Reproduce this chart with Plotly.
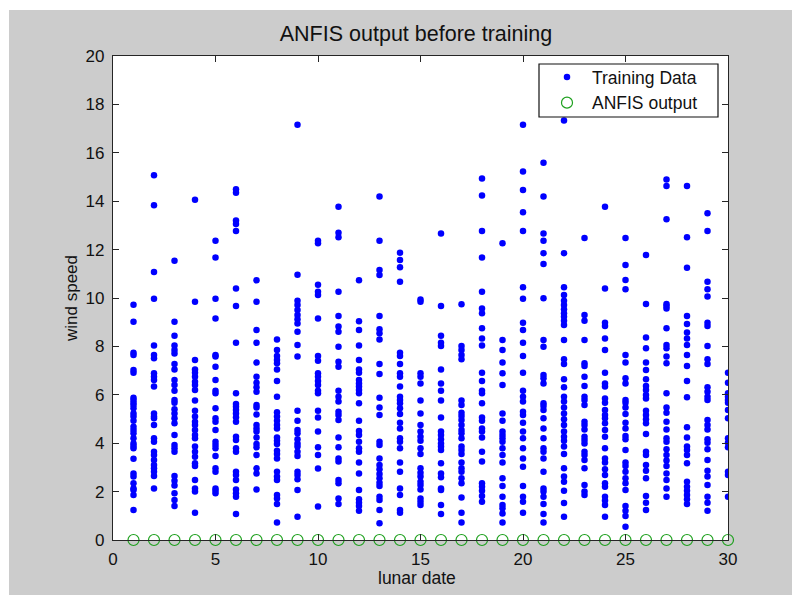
import plotly.graph_objects as go

# ---- data: wind speed samples per lunar date ----
d1 = [9.72, 9.02, 7.74, 7.64, 7.02, 6.91, 5.88, 5.79, 5.67, 5.58, 5.44, 5.23, 5.10, 4.93, 4.68, 4.55, 4.41, 4.20, 3.99, 3.88, 3.79, 3.36, 2.75, 2.62, 2.34, 2.13, 2.07, 1.86, 1.24]
d2 = [15.07, 13.83, 11.07, 9.97, 8.04, 7.64, 7.51, 6.89, 6.75, 6.61, 6.34, 5.23, 5.10, 5.03, 4.75, 4.20, 4.06, 3.65, 3.51, 3.31, 3.10, 2.96, 2.82, 2.64, 2.13]
d3 = [11.54, 9.02, 8.44, 8.04, 7.85, 7.71, 7.27, 7.05, 6.61, 6.40, 6.17, 5.79, 5.67, 5.40, 5.23, 5.03, 4.82, 4.34, 3.93, 3.79, 3.65, 2.64, 2.45, 2.25, 1.93, 1.65, 1.40]
d4 = [14.06, 9.85, 7.44, 7.05, 6.91, 6.75, 6.54, 6.40, 6.20, 5.76, 5.34, 5.10, 4.89, 4.75, 4.55, 4.34, 4.20, 3.86, 3.65, 3.44, 3.17, 3.06, 2.48, 2.13, 2.00, 1.13]
d5 = [12.37, 11.67, 9.97, 9.15, 7.64, 7.58, 7.16, 6.61, 6.17, 6.06, 5.44, 5.03, 4.89, 4.55, 4.06, 3.93, 3.79, 3.47, 2.96, 2.82, 2.13, 2.04, 1.93]
d6 = [14.49, 14.35, 13.20, 13.06, 12.77, 10.39, 9.67, 8.15, 6.06, 5.62, 5.51, 5.37, 5.23, 5.07, 4.89, 4.27, 4.13, 3.79, 3.65, 2.82, 2.69, 2.48, 2.09, 1.93, 1.79, 1.07]
d7 = [10.73, 9.85, 8.68, 8.15, 7.33, 6.75, 6.50, 6.31, 6.13, 5.58, 5.48, 5.19, 4.75, 4.61, 4.48, 4.24, 3.97, 3.83, 3.51, 2.96, 2.75, 2.09]
d8 = [8.29, 7.85, 7.60, 7.44, 7.30, 7.05, 6.57, 5.92, 5.28, 5.10, 4.93, 4.75, 4.61, 4.24, 4.10, 3.97, 3.69, 3.55, 3.37, 2.82, 2.62, 2.48, 1.86, 1.72, 1.49, 0.72]
d9 = [17.16, 10.96, 9.89, 9.71, 9.50, 9.30, 9.12, 8.95, 8.61, 8.06, 7.58, 5.34, 4.93, 4.55, 4.41, 4.16, 3.99, 3.86, 3.65, 3.47, 2.82, 2.69, 2.51, 2.07, 0.96]
d10 = [12.37, 12.26, 10.55, 10.26, 10.12, 9.15, 7.60, 7.41, 6.89, 6.75, 6.57, 6.40, 6.17, 6.06, 5.34, 5.06, 4.48, 3.83, 3.51, 2.95, 1.38]
d11 = [13.77, 12.70, 12.51, 10.26, 9.26, 8.82, 8.61, 7.99, 7.37, 7.16, 6.17, 5.92, 5.72, 5.30, 5.17, 4.96, 4.24, 3.83, 3.37, 3.24, 2.48, 2.34, 1.72, 1.49]
d12 = [10.73, 9.04, 8.68, 8.04, 7.44, 7.05, 6.91, 6.61, 6.47, 6.34, 6.20, 6.06, 5.65, 4.93, 4.50, 4.34, 4.06, 3.79, 3.65, 3.20, 2.75, 2.07, 1.68, 1.54, 1.40, 1.21]
d13 = [14.19, 12.37, 11.16, 10.95, 9.26, 8.71, 8.54, 8.29, 7.27, 6.86, 5.88, 5.48, 5.17, 4.06, 3.93, 3.37, 3.10, 2.92, 2.73, 2.55, 2.37, 2.23, 1.79, 1.65, 1.24, 0.69]
d14 = [11.87, 11.57, 11.27, 10.67, 7.74, 7.60, 7.27, 6.89, 6.75, 6.34, 5.92, 5.79, 5.65, 5.44, 5.21, 4.85, 4.61, 4.20, 4.06, 3.79, 3.20, 2.82, 2.13, 1.86, 1.24, 1.13]
d15 = [9.94, 9.85, 6.89, 6.75, 6.47, 5.76, 5.23, 4.75, 4.48, 4.27, 4.10, 3.79, 3.55, 2.96, 2.78, 2.62, 2.41, 2.27, 2.09, 1.72, 1.58, 1.45]
d16 = [12.67, 9.67, 8.44, 8.15, 8.02, 7.05, 6.47, 6.17, 5.76, 5.06, 4.48, 4.34, 4.16, 3.99, 3.86, 3.72, 3.17, 2.75, 2.59, 2.13, 2.07, 1.45, 1.07]
d17 = [9.74, 8.02, 7.85, 7.64, 7.47, 5.76, 5.58, 5.26, 5.12, 4.96, 4.75, 4.55, 4.41, 4.20, 3.86, 3.72, 3.55, 3.20, 2.96, 2.82, 2.55, 2.34, 1.76, 1.13, 0.72]
d18 = [14.94, 14.24, 12.77, 11.67, 10.26, 9.57, 9.37, 8.75, 8.33, 8.04, 6.91, 6.57, 6.17, 6.06, 5.65, 5.06, 4.93, 4.61, 4.48, 4.24, 3.65, 3.24, 2.34, 2.20, 2.04, 1.82, 1.58]
d19 = [12.26, 8.26, 7.85, 7.33, 6.89, 6.40, 5.23, 4.93, 4.48, 4.34, 4.20, 4.06, 3.79, 3.51, 3.20, 2.55, 2.23, 1.79, 1.45, 1.31, 1.10, 0.72]
d20 = [17.16, 15.23, 14.46, 13.54, 12.77, 10.44, 9.97, 8.98, 8.68, 8.15, 7.60, 6.91, 6.17, 5.92, 5.72, 5.30, 5.17, 4.85, 4.48, 4.20, 3.79, 3.37, 3.03, 2.23, 1.79, 1.58, 1.13]
d21 = [15.59, 14.19, 12.67, 12.37, 11.85, 11.40, 9.99, 8.26, 7.99, 6.82, 6.68, 6.47, 5.65, 5.54, 5.37, 5.03, 4.61, 4.20, 3.79, 3.65, 3.37, 2.82, 2.13, 2.00, 1.79, 1.49, 1.07, 0.72]
d22 = [17.33, 11.85, 10.44, 10.12, 9.89, 9.71, 9.53, 9.37, 9.23, 9.06, 8.88, 8.26, 7.47, 7.27, 6.64, 6.31, 5.92, 5.72, 5.48, 5.23, 4.99, 4.75, 4.48, 4.27, 4.10, 3.86, 3.55, 2.96, 2.62, 2.41, 2.04, 1.53, 0.96]
d23 = [12.48, 9.30, 9.06, 8.26, 7.30, 7.19, 6.75, 6.36, 5.92, 5.79, 5.58, 4.89, 4.75, 4.57, 4.27, 4.13, 3.99, 3.65, 3.51, 3.31, 2.96, 2.27, 2.00, 1.86]
d24 = [13.77, 10.39, 8.98, 8.84, 8.33, 7.85, 6.91, 6.47, 6.34, 5.85, 5.67, 5.37, 5.17, 5.03, 4.82, 4.55, 4.27, 3.79, 3.37, 3.20, 2.92, 2.69, 2.34, 2.20, 1.79, 1.63, 1.45, 0.96]
d25 = [12.48, 11.36, 10.74, 10.36, 7.64, 7.33, 6.68, 6.47, 5.79, 5.67, 5.48, 5.21, 4.85, 4.61, 4.30, 4.16, 3.72, 3.20, 3.06, 2.82, 2.55, 2.34, 2.07, 1.40, 1.21, 0.99, 0.55]
d26 = [11.78, 9.75, 8.37, 7.92, 7.33, 7.02, 6.64, 6.36, 6.20, 5.99, 5.85, 5.34, 5.17, 4.99, 4.82, 4.38, 3.65, 3.51, 3.10, 2.86, 2.55, 1.82, 1.54, 1.24]
d27 = [14.90, 14.63, 13.25, 9.75, 9.67, 9.57, 8.75, 8.06, 7.92, 7.58, 7.30, 6.06, 5.48, 5.26, 4.89, 4.57, 4.20, 4.06, 3.75, 3.51, 3.28, 3.06, 2.75, 2.48, 2.13, 1.79]
d28 = [14.63, 12.51, 11.25, 9.26, 8.93, 8.57, 8.33, 8.06, 7.64, 7.19, 6.57, 5.90, 4.66, 4.24, 3.86, 3.72, 3.51, 3.17, 2.41, 2.20, 2.04, 1.86, 1.68, 1.49]
d29 = [13.50, 12.77, 10.67, 10.36, 10.06, 8.98, 8.84, 8.02, 7.47, 7.27, 6.31, 6.13, 5.92, 5.79, 4.96, 4.75, 4.57, 4.16, 4.02, 3.75, 3.31, 2.86, 2.62, 2.27, 1.79, 1.54, 1.21]
d30 = [6.91, 6.50, 6.06, 5.92, 5.79, 5.67, 5.37, 5.03, 4.20, 4.02, 3.83, 2.82, 2.69, 1.79]

lunar_dates = list(range(1, 31))
anfis_output = [0, 0, 0, 0, 0, 0, 0, 0, 0, 0, 0, 0, 0, 0, 0,
                0, 0, 0, 0, 0, 0, 0, 0, 0, 0, 0, 0, 0, 0, 0]

x_ticks = [0, 5, 10, 15, 20, 25, 30]
y_ticks = [0, 2, 4, 6, 8, 10, 12, 14, 16, 18, 20]

days = [d1, d2, d3, d4, d5, d6, d7, d8, d9, d10, d11, d12, d13, d14, d15,
        d16, d17, d18, d19, d20, d21, d22, d23, d24, d25, d26, d27, d28, d29, d30]
train_x, train_y = [], []
for day, vals in zip(lunar_dates, days):
    train_x += [day] * len(vals)
    train_y += vals

FONT = "Liberation Sans, Arial, sans-serif"
W, H = 792, 595
L, R, T, B = 113, 64, 56, 55
pw, ph = W - L - R, H - T - B

fig = go.Figure()
fig.add_trace(go.Scatter(
    x=train_x, y=train_y, mode="markers", name="Training Data",
    marker=dict(color="#0000ff", size=6.5, line=dict(width=0)),
))
fig.add_trace(go.Scatter(
    x=lunar_dates, y=anfis_output, mode="markers", name="ANFIS output",
    marker=dict(symbol="circle-open", color="#1ea01e", size=11, line=dict(width=1.2, color="#1ea01e")),
    cliponaxis=False,
))

def px2x(p):
    return (p - L) / pw

def px2y(p):
    return (H - B - p) / ph

axis_common = dict(
    showgrid=False, zeroline=False, showline=True, linecolor="#262626", linewidth=1.3,
    mirror="ticks", ticks="inside", ticklen=6, tickwidth=1, tickcolor="#262626",
    tickfont=dict(family=FONT, size=17, color="#111111"),
)

fig.update_layout(
    width=W, height=H,
    margin=dict(l=L, r=R, t=T, b=B),
    paper_bgcolor="#cccccc", plot_bgcolor="#ffffff",
    title=dict(text="ANFIS output before training", font=dict(family=FONT, size=21.5, color="#111111"),
               x=px2x(416), xref="paper", xanchor="center",
               y=1 - 33 / H, yref="container", yanchor="middle"),
    xaxis=dict(range=[0, 30], tickvals=x_ticks, ticklabelstandoff=3, **axis_common),
    yaxis=dict(range=[0, 20], tickvals=y_ticks, ticklabelstandoff=4, **axis_common),
    showlegend=True,
    legend=dict(x=px2x(542), y=px2y(59), xanchor="left", yanchor="top",
                bgcolor="rgba(0,0,0,0)", borderwidth=0,
                font=dict(family=FONT, size=17.5, color="#111111"),
                tracegroupgap=0, itemwidth=40),
    annotations=[
        dict(text="lunar date", x=px2x(417), y=px2y(578), xref="paper", yref="paper",
             showarrow=False, font=dict(family=FONT, size=17.5, color="#111111"),
             xanchor="center", yanchor="middle"),
        dict(text="wind speed", x=px2x(71), y=px2y(299), xref="paper", yref="paper",
             showarrow=False, textangle=-90, font=dict(family=FONT, size=17, color="#111111"),
             xanchor="center", yanchor="middle"),
    ],
    shapes=[
        dict(type="rect", xref="paper", yref="paper", x0=px2x(0), x1=px2x(9), y0=px2y(H), y1=px2y(0),
             fillcolor="#ffffff", line=dict(width=0), layer="below"),
        dict(type="rect", xref="paper", yref="paper", x0=px2x(0), x1=px2x(W), y0=px2y(10), y1=px2y(0),
             fillcolor="#ffffff", line=dict(width=0), layer="below"),
        # legend frame
        dict(type="rect", xref="paper", yref="paper", x0=px2x(539), x1=px2x(718), y0=px2y(117), y1=px2y(64),
             fillcolor="#ffffff", line=dict(width=1.2, color="#111111"), layer="above"),
    ],
)

fig.write_html("out.html")
